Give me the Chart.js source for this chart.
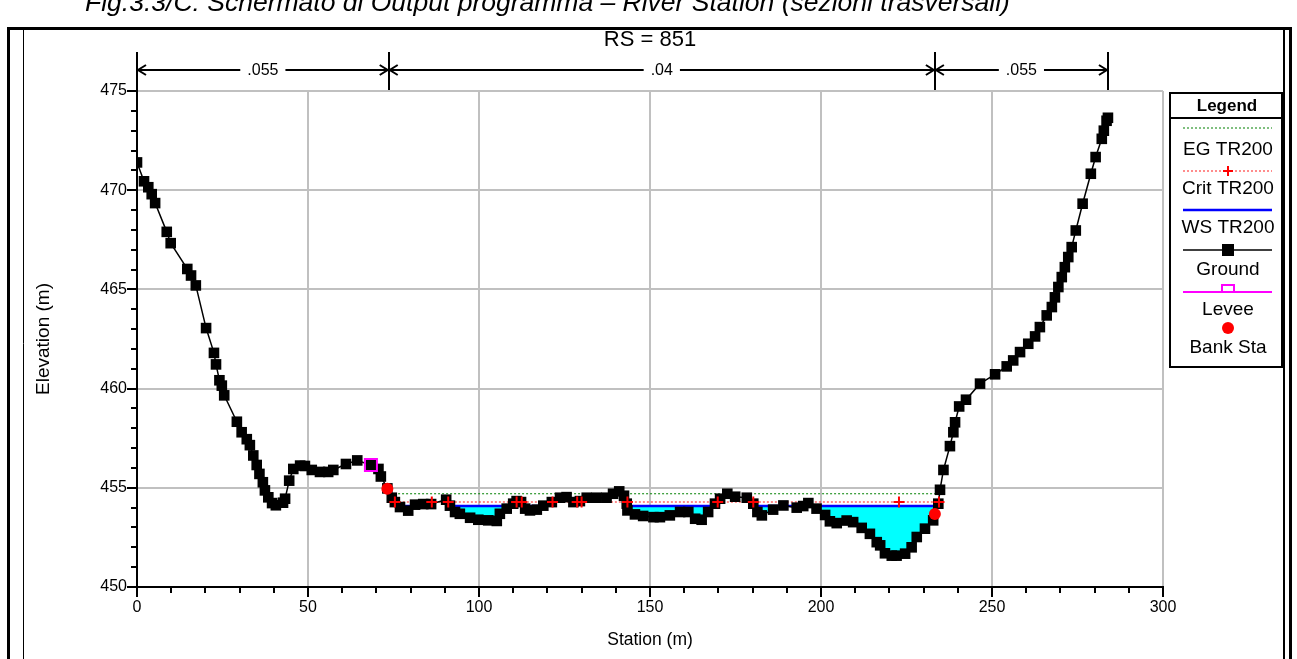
<!DOCTYPE html>
<html>
<head>
<meta charset="utf-8">
<title>RS = 851</title>
<script src="https://cdn.jsdelivr.net/npm/chart.js@4.4.1/dist/chart.umd.min.js"></script>
<style>
  html, body { margin: 0; padding: 0; background: #fff; }
  #wrap { position: relative; width: 1297px; height: 659px; overflow: hidden; }
  #xsChart { position: absolute; left: 0; top: 0; }
  #caption {
    position: absolute; left: 85px; top: -11px;
    font: italic 26.5px "Liberation Sans", Arial, sans-serif;
    line-height: 26px; white-space: nowrap; color: #000;
  }
</style>
</head>
<body>
<div id="wrap">
  <canvas id="xsChart" width="1297" height="659"></canvas>
  <div id="caption">Fig.3.3/C: Schermato di Output programma – River Station (sezioni trasversali)</div>
</div>
<script>
// ground profile (station m, elevation m)
const groundSta = [0, 2.05, 3.3, 4.3, 5.3, 8.7, 9.85, 14.7, 15.8, 17.2, 20.2, 22.5, 23.1, 24.1, 24.8, 25.5,
  29.2, 30.6, 32.1, 33.0, 34.0, 35.0, 35.8, 36.8, 37.4, 38.4, 39.5, 40.6, 42.7, 43.3, 44.5, 45.7,
  47.7, 49.1, 51.1, 53.5, 55.9, 57.4, 61.1, 64.4, 68.4, 70.6, 71.3, 73.2, 74.5, 75.4, 76.9, 79.3,
  81.3, 83.7, 86.0, 90.4, 91.5, 93.0, 94.4, 97.4, 99.8, 102.7, 105.2, 106.1, 108.1, 110.0, 111.0,
  112.3, 113.5, 114.9, 116.9, 118.8, 121.3, 123.7, 125.6, 127.6, 129.5, 131.5, 134.4, 137.3, 139.2,
  141.0, 142.4, 143.2, 143.4, 145.6, 148.0, 151.0, 152.9, 155.8, 158.8, 161.2, 163.2, 165.1, 167.0,
  169.0, 170.5, 172.6, 174.9, 178.3, 180.2, 181.4, 182.7, 186.0, 189.0, 192.9, 194.8, 196.3, 198.7,
  201.2, 202.6, 204.6, 207.5, 209.4, 211.9, 214.3, 216.3, 217.3, 218.7, 220.7, 222.1, 224.6, 226.5,
  228.0, 230.4, 232.8, 234.3, 234.8, 235.8, 237.7, 238.7, 239.2, 240.4, 242.4, 246.5, 250.9, 254.3,
  256.2, 258.2, 260.6, 262.6, 264.0, 266.0, 267.5, 268.4, 269.4, 270.4, 271.3, 272.3, 273.3, 274.5,
  276.5, 278.9, 280.3, 282.1, 282.7, 283.5, 283.9];
const groundElev = [471.4, 470.45, 470.15, 469.8, 469.35, 467.9, 467.33, 466.03, 465.7, 465.2, 463.05, 461.8, 461.22, 460.42, 460.15, 459.66,
  458.33, 457.8, 457.45, 457.15, 456.63, 456.15, 455.7, 455.28, 454.87, 454.52, 454.23, 454.12, 454.25, 454.45, 455.36, 455.95,
  456.12, 456.1, 455.9, 455.8, 455.8, 455.9, 456.2, 456.38, 456.15, 455.95, 455.57, 454.97, 454.5, 454.28, 454.03, 453.85,
  454.15, 454.18, 454.18, 454.4, 454.1, 453.78, 453.69, 453.49, 453.39, 453.36, 453.33, 453.69, 453.95, 454.2, 454.33,
  454.28, 453.95, 453.86, 453.9, 454.1, 454.28, 454.5, 454.53, 454.28, 454.33, 454.5, 454.5, 454.5, 454.7,
  454.82, 454.6, 454.2, 453.86, 453.66, 453.58, 453.52, 453.52, 453.61, 453.78, 453.78, 453.44, 453.39, 453.78,
  454.2, 454.45, 454.7, 454.55, 454.5, 454.2, 453.78, 453.61, 453.9, 454.11, 454.0, 454.08, 454.23, 453.95,
  453.63, 453.31, 453.22, 453.35, 453.27, 452.98, 452.68, 452.26, 452.1, 451.7, 451.58, 451.58, 451.68, 452.0,
  452.52, 452.94, 453.36, 454.2, 454.9, 455.9, 457.1, 457.8, 458.3, 459.1, 459.44, 460.25, 460.72, 461.12,
  461.42, 461.84, 462.26, 462.63, 463.1, 463.69, 464.11, 464.6, 465.12, 465.62, 466.12, 466.63, 467.13, 467.97,
  469.32, 470.83, 471.67, 472.59, 473.0, 473.5, 473.65];

// TR200 water levels
const egElev = 454.70;
const egRange = [74.0, 233.9];
const critElev = 454.28;
const critRange = [75.4, 234.5];
const critSta = [75.4, 86.2, 91.0, 111.0, 112.5, 121.5, 128.7, 130.0, 143.4, 169.8, 180.2, 222.8, 234.5];
const wsElev = 454.08;
const wsStart = [76.9, 92.0, 112.9, 143.4, 180.9];
const wsEnd = [81.3, 109.6, 119.3, 168.5, 234.3];

const leveeSta = [68.4];
const leveeElev = [456.15];
const bankSta = [73.2, 233.3];
const bankElev = [454.95, 453.68];

// Manning's n reaches
const nSta = [0, 73.6, 233.3, 283.9];
const nValues = ['.055', '.04', '.055'];

const FONT = '"Liberation Sans", Arial, sans-serif';
Chart.defaults.font.family = FONT;
Chart.defaults.color = '#000';

const pts = (xs, ys) => xs.map((x, i) => ({ x: x, y: ys[i] }));

const wsData = [];
wsStart.forEach((s, i) => {
  wsData.push({ x: s, y: wsElev }, { x: wsEnd[i], y: wsElev });
  if (i < wsStart.length - 1) wsData.push({ x: (wsEnd[i] + wsStart[i + 1]) / 2, y: null });
});

function line(ctx, x1, y1, x2, y2) {
  ctx.beginPath();
  ctx.moveTo(x1, y1);
  ctx.lineTo(x2, y2);
  ctx.stroke();
}

const isMajorX = v => v % 50 === 0;
const isMajorY = v => v % 5 === 0;

const extras = {
  id: 'extras',
  afterDraw(chart) {
    const ctx = chart.ctx;
    const xs = chart.scales.x;
    const ys = chart.scales.y;
    const area = chart.chartArea;
    ctx.save();
    ctx.strokeStyle = '#000';
    ctx.fillStyle = '#000';

    // short minor ticks
    ctx.lineWidth = 2;
    xs.ticks.forEach(t => {
      if (isMajorX(t.value)) return;
      const px = Math.round(xs.getPixelForValue(t.value));
      line(ctx, px, area.bottom, px, area.bottom + 6);
    });
    ys.ticks.forEach(t => {
      if (isMajorY(t.value)) return;
      const py = Math.round(ys.getPixelForValue(t.value));
      line(ctx, area.left - 6, py, area.left, py);
    });

    // Manning's n bar
    const yA = 70;
    nSta.forEach(s => {
      const px = Math.round(xs.getPixelForValue(s));
      line(ctx, px, 52, px, 90);
    });
    ctx.font = '16px ' + FONT;
    ctx.textAlign = 'center';
    ctx.textBaseline = 'middle';
    for (let i = 0; i < nValues.length; i++) {
      const x1 = xs.getPixelForValue(nSta[i]);
      const x2 = xs.getPixelForValue(nSta[i + 1]);
      const mid = (x1 + x2) / 2;
      const w = ctx.measureText(nValues[i]).width;
      line(ctx, x1, yA, mid - w / 2 - 7, yA);
      line(ctx, mid + w / 2 + 7, yA, x2, yA);
      ctx.beginPath();
      ctx.moveTo(x1 + 9, yA - 5); ctx.lineTo(x1 + 1, yA); ctx.lineTo(x1 + 9, yA + 5);
      ctx.moveTo(x2 - 9, yA - 5); ctx.lineTo(x2 - 1, yA); ctx.lineTo(x2 - 9, yA + 5);
      ctx.stroke();
      ctx.fillText(nValues[i], mid, yA + 1);
    }

    // legend box
    const L = 1170, R = 1282, T = 93, B = 367, cx = 1228, sx1 = 1183, sx2 = 1272;
    ctx.lineWidth = 2;
    ctx.strokeRect(L, T, R - L, B - T);
    line(ctx, L, 118, R, 118);
    ctx.font = 'bold 17px ' + FONT;
    ctx.fillText('Legend', cx - 1, 106);
    ctx.font = '19px ' + FONT;

    // EG
    ctx.strokeStyle = '#008000'; ctx.lineWidth = 1; ctx.setLineDash([2, 2]);
    line(ctx, sx1, 128, sx2, 128);
    ctx.fillText('EG TR200', cx, 150);
    // Crit
    ctx.strokeStyle = 'rgba(255,0,0,0.45)'; ctx.lineWidth = 2;
    line(ctx, sx1, 171, sx2, 171);
    ctx.setLineDash([]);
    ctx.strokeStyle = '#f00';
    line(ctx, cx - 5, 171, cx + 5, 171); line(ctx, cx, 166, cx, 176);
    ctx.fillText('Crit TR200', cx, 189);
    // WS
    ctx.strokeStyle = '#0000ff'; ctx.lineWidth = 2.5;
    line(ctx, sx1, 210, sx2, 210);
    ctx.fillText('WS TR200', cx, 228);
    // Ground
    ctx.strokeStyle = '#000'; ctx.lineWidth = 1.5;
    line(ctx, sx1, 250, sx2, 250);
    ctx.fillRect(cx - 6, 244, 12, 12);
    ctx.fillText('Ground', cx, 270);
    // Levee
    ctx.strokeStyle = '#ff00ff'; ctx.lineWidth = 2;
    line(ctx, sx1, 292, sx2, 292);
    ctx.beginPath();
    ctx.moveTo(cx - 6, 292); ctx.lineTo(cx - 6, 285); ctx.lineTo(cx + 6, 285); ctx.lineTo(cx + 6, 292);
    ctx.stroke();
    ctx.fillText('Levee', cx, 310);
    // Bank Sta
    ctx.fillStyle = '#f00';
    ctx.beginPath(); ctx.arc(cx, 328, 6, 0, Math.PI * 2); ctx.fill();
    ctx.fillStyle = '#000';
    ctx.fillText('Bank Sta', cx, 348);

    // page frame
    ctx.strokeStyle = '#000';
    ctx.lineWidth = 3;
    line(ctx, 7, 28.5, 1292, 28.5);
    line(ctx, 8.5, 27, 8.5, 659);
    line(ctx, 1290.5, 27, 1290.5, 659);
    ctx.lineWidth = 1;
    line(ctx, 23.5, 28, 23.5, 659);
    ctx.lineWidth = 2;
    line(ctx, 1284, 28, 1284, 659);
    ctx.restore();
  }
};

new Chart(document.getElementById('xsChart'), {
  type: 'scatter',
  data: {
    datasets: [
      {
        label: 'Bank Sta',
        data: pts(bankSta, bankElev),
        pointStyle: 'circle', pointRadius: 6,
        pointBackgroundColor: '#f00', pointBorderColor: '#f00', pointBorderWidth: 0
      },
      {
        label: 'Levee',
        data: pts(leveeSta, leveeElev),
        pointStyle: 'rect', pointRadius: 8.5,
        pointBackgroundColor: 'rgba(0,0,0,0)', pointBorderColor: '#ff00ff', pointBorderWidth: 2
      },
      {
        label: 'Crit TR200',
        data: critSta.map(s => ({ x: s, y: critElev })),
        pointStyle: 'cross', pointRadius: 5.5,
        pointBorderColor: '#f00', pointBorderWidth: 2
      },
      {
        label: 'Ground',
        data: pts(groundSta, groundElev),
        showLine: true, borderColor: '#000', borderWidth: 1.5,
        pointStyle: 'rect', pointRadius: 7.5,
        pointBackgroundColor: '#000', pointBorderColor: '#000', pointBorderWidth: 0
      },
      {
        label: 'EG TR200',
        data: [{ x: egRange[0], y: egElev }, { x: egRange[1], y: egElev }],
        showLine: true, borderColor: '#008000', borderWidth: 1, borderDash: [2, 2],
        pointRadius: 0
      },
      {
        label: 'Crit TR200 line',
        data: [{ x: critRange[0], y: critElev }, { x: critRange[1], y: critElev }],
        showLine: true, borderColor: 'rgba(255,0,0,0.45)', borderWidth: 2, borderDash: [2, 2],
        pointRadius: 0
      },
      {
        label: 'WS TR200',
        data: wsData,
        showLine: true, spanGaps: false,
        borderColor: '#0000ff', borderWidth: 2.5, pointRadius: 0,
        backgroundColor: '#00ffff',
        fill: { target: 3, above: '#00ffff', below: 'rgba(0,0,0,0)' }
      }
    ]
  },
  options: {
    responsive: false,
    animation: false,
    events: [],
    layout: { padding: { left: 28, right: 134, top: 27, bottom: 0 } },
    plugins: {
      legend: { display: false },
      tooltip: { enabled: false },
      title: {
        display: true, text: 'RS = 851', color: '#000', fullSize: false,
        font: { size: 22, weight: 'normal' },
        padding: { top: 0, bottom: 37.6 }
      }
    },
    scales: {
      x: {
        type: 'linear', min: 0, max: 300,
        afterFit: s => { s.height = 72; },
        ticks: {
          stepSize: 10, autoSkip: false, maxRotation: 0, padding: 1,
          font: { size: 16 },
          callback: v => (isMajorX(v) ? v : '')
        },
        grid: {
          color: c => (c.tick && isMajorX(c.tick.value) ? '#c0c0c0' : 'rgba(0,0,0,0)'),
          tickColor: c => (c.tick && isMajorX(c.tick.value) ? '#000' : 'rgba(0,0,0,0)'),
          lineWidth: 2, tickLength: 10, tickWidth: 2
        },
        border: { color: '#000', width: 2 },
        title: { display: true, text: 'Station (m)', font: { size: 17.5 }, padding: { top: 0, bottom: 8 } }
      },
      y: {
        min: 450, max: 475,
        afterFit: s => { s.width = 109; },
        ticks: {
          stepSize: 1, autoSkip: false, padding: 0,
          font: { size: 16 },
          callback: v => (isMajorY(v) ? v : '')
        },
        grid: {
          color: c => (c.tick && isMajorY(c.tick.value) ? '#c0c0c0' : 'rgba(0,0,0,0)'),
          tickColor: c => (c.tick && isMajorY(c.tick.value) ? '#000' : 'rgba(0,0,0,0)'),
          lineWidth: 2, tickLength: 10, tickWidth: 2
        },
        border: { color: '#000', width: 2 },
        title: { display: true, text: 'Elevation (m)', font: { size: 19 }, padding: { top: 4, bottom: 0 } }
      }
    }
  },
  plugins: [extras]
});
</script>
</body>
</html>
